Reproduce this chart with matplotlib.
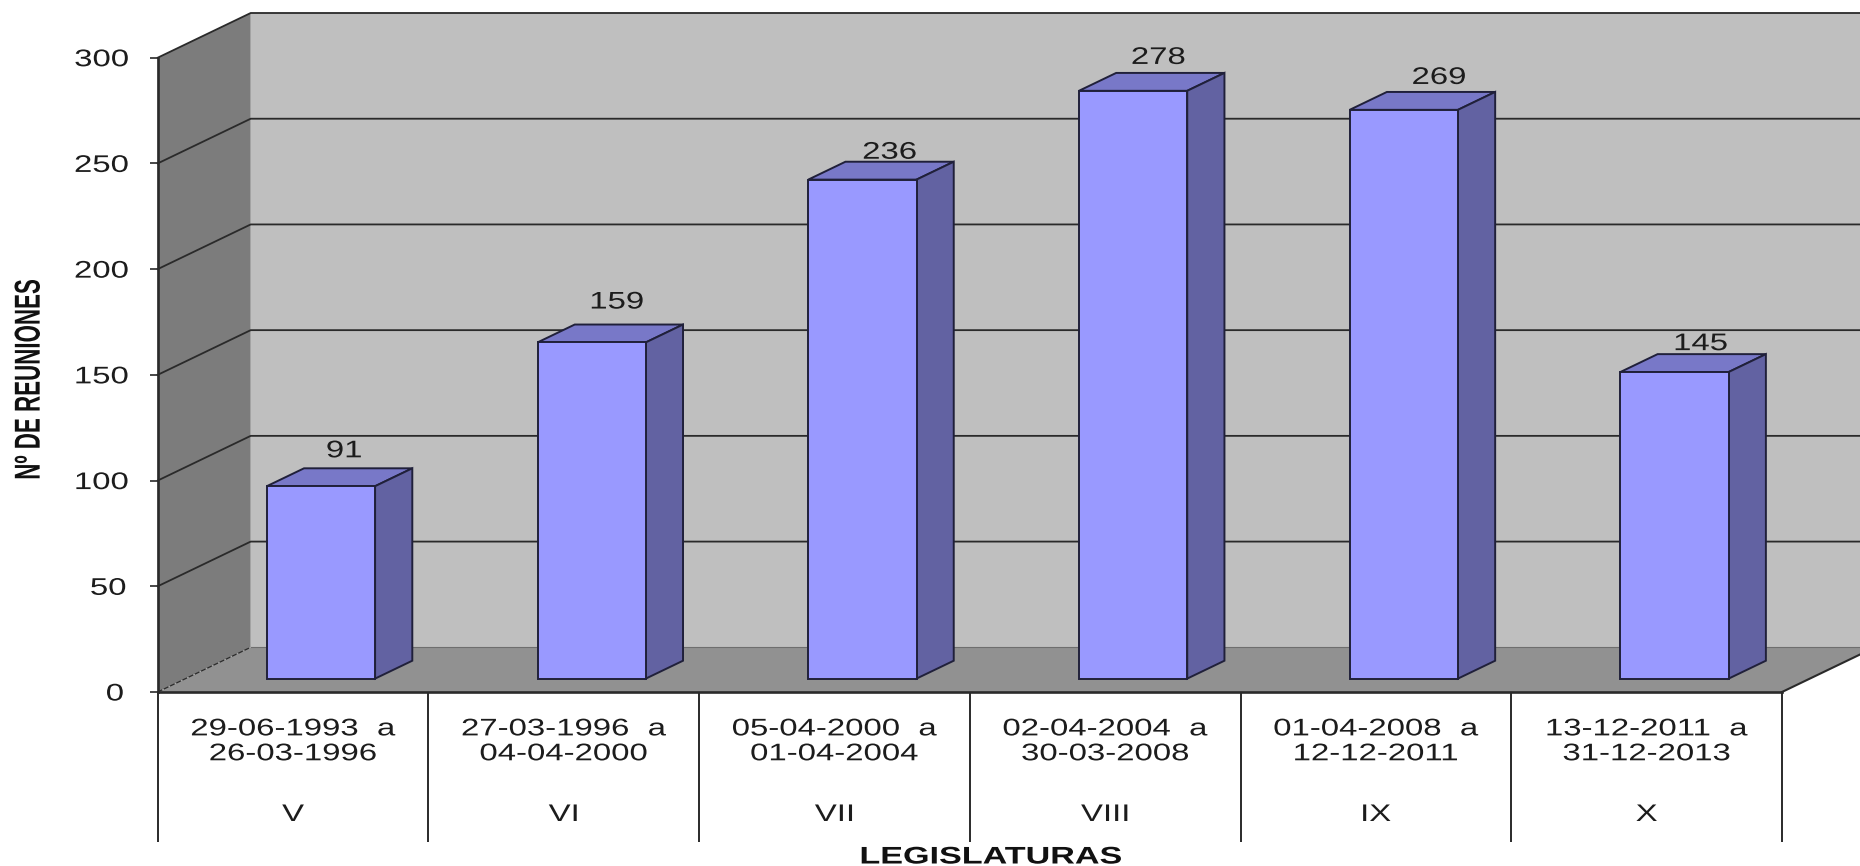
import matplotlib
matplotlib.use('Agg')
import matplotlib.pyplot as plt
from matplotlib.patches import Polygon
from matplotlib.patheffects import AbstractPathEffect
from matplotlib.transforms import Affine2D
import numpy as np

legislaturas = ['V', 'VI', 'VII', 'VIII', 'IX', 'X']
periodos = ['29-06-1993  a\n26-03-1996', '27-03-1996  a\n04-04-2000',
            '05-04-2000  a\n01-04-2004', '02-04-2004  a\n30-03-2008',
            '01-04-2008  a\n12-12-2011', '13-12-2011  a\n31-12-2013']
reuniones = [91, 159, 236, 278, 269, 145]
y_ticks = [0, 50, 100, 150, 200, 250, 300]

# nudges for the value labels, in pixels from the back edge of each bar top
label_dx = [-14, -12, -10, -12, -2, -11]
label_dy = [17, 22, 9, 15, 14, 10]

W, H = 1860, 866
plt.rcParams['font.family'] = ['Liberation Sans', 'DejaVu Sans']
TEXT = '#1c1c1c'
LINE = '#2a2a2a'
FS = 17.3


class Stretch(AbstractPathEffect):
    # the source image is stretched sideways, so the glyphs are too
    def __init__(self, sx=1.0, sy=1.0):
        super().__init__()
        self.sx = sx
        self.sy = sy

    def draw_path(self, renderer, gc, tpath, affine, rgbFace=None):
        box = tpath.transformed(affine).get_extents()
        cx, cy = (box.x0 + box.x1) / 2, (box.y0 + box.y1) / 2
        t = affine + Affine2D().translate(-cx, -cy).scale(self.sx, self.sy).translate(cx, cy)
        renderer.draw_path(gc, tpath, t, rgbFace)


wide = [Stretch(1.37)]

fig = plt.figure(figsize=(W / 100, H / 100), dpi=100)
ax = fig.add_axes([157.7 / W, 1 - 692 / H, 1624.3 / W, 634.3 / H])
n = len(reuniones)
ax.set_xlim(0, n)
ax.set_ylim(0, 300)
ax.patch.set_visible(False)

# fake 3d depth of the excel chart, in data units
depth_x = 93 / (1624.3 / n)
depth_y = 44.7 / (634.3 / 300)


def proj(x, y, d):
    return (x + d * depth_x, y + d * depth_y)


def face(pts, fc, ec='none', lw=0, z=1):
    ax.add_patch(Polygon(pts, closed=True, fc=fc, ec=ec, lw=lw, zorder=z,
                         clip_on=False, joinstyle='miter'))


# walls and floor
face([proj(0, 0, 1), proj(n, 0, 1), proj(n, 300, 1), proj(0, 300, 1)], '#bfbfbf')
face([proj(0, 0, 0), proj(0, 0, 1), proj(0, 300, 1), proj(0, 300, 0)], '#7c7c7c')
face([proj(0, 0, 0), proj(n, 0, 0), proj(n, 0, 1), proj(0, 0, 1)], '#919191')

# gridlines
for v in y_ticks[1:]:
    x0, y0 = proj(0, v, 0)
    x1, y1 = proj(0, v, 1)
    x2, y2 = proj(n, v, 1)
    ax.plot([x0, x1, x2], [y0, y1, y2], color=LINE, lw=1.3, zorder=2, clip_on=False)
x1, y1 = proj(n, 0, 0)
x2, y2 = proj(n, 0, 1)
ax.plot([x1, x2], [y1, y2], color=LINE, lw=1.5, zorder=2, clip_on=False)
x0, y0 = proj(0, 0, 0)
x1, y1 = proj(0, 0, 1)
ax.plot([x0, x1], [y0, y1], color=LINE, lw=0.9, ls=(0, (4, 1.5)), zorder=2, clip_on=False)
x0, y0 = proj(0, 0, 1)
x1, y1 = proj(n, 0, 1)
ax.plot([x0, x1], [y0, y1], color='#6e6e6e', lw=0.8, zorder=2, clip_on=False)

# bars
bar_w = 0.4
d0, d1 = 0.3, 0.7
ec = '#20203a'
for i, v in enumerate(reuniones):
    l = i + 0.5 - bar_w / 2
    r = i + 0.5 + bar_w / 2
    face([proj(l, v, d0), proj(r, v, d0), proj(r, v, d1), proj(l, v, d1)],
         '#7878c8', ec, 1.4, 3)
    face([proj(r, 0, d0), proj(r, 0, d1), proj(r, v, d1), proj(r, v, d0)],
         '#6262a2', ec, 1.4, 3)
    face([proj(l, 0, d0), proj(r, 0, d0), proj(r, v, d0), proj(l, v, d0)],
         '#9999ff', ec, 1.4, 4)
    ax.annotate(str(v), xy=proj(i + 0.5, v, d1), xytext=(label_dx[i], label_dy[i]),
                textcoords='offset pixels', ha='center', va='center',
                fontsize=FS, color=TEXT, annotation_clip=False, zorder=5,
                path_effects=wide)

# axes
for s in ['top', 'right']:
    ax.spines[s].set_visible(False)
for s in ['left', 'bottom']:
    ax.spines[s].set_color(LINE)
    ax.spines[s].set_linewidth(1.9)
    ax.spines[s].set_zorder(6)

ax.set_yticks(y_ticks)
ax.tick_params(axis='y', length=6, width=1.2, color=LINE, pad=20,
               labelsize=FS, labelcolor=TEXT)
for lab in ax.get_yticklabels():
    lab.set_path_effects(wide)

# category separators are long major ticks, the dates sit on minor ticks
ax.set_xticks(np.arange(n + 1), labels=[''] * (n + 1))
ax.tick_params(axis='x', which='major', length=108, width=1.4, color=LINE)
ax.set_xticks(np.arange(n) + 0.5, labels=periodos, minor=True)
ax.tick_params(axis='x', which='minor', length=0, pad=19, labelsize=FS, labelcolor=TEXT)
for lab in ax.get_xticklabels(minor=True):
    lab.set_linespacing(1.17)
    lab.set_path_effects(wide)

for i, nombre in enumerate(legislaturas):
    ax.annotate(nombre, xy=(i + 0.5, 0), xycoords=ax.get_xaxis_transform(),
                xytext=(0, -123), textcoords='offset pixels', ha='center', va='center',
                fontsize=FS, color=TEXT, annotation_clip=False, path_effects=wide)

ax.set_ylabel('Nº DE REUNIONES', fontsize=FS, fontweight='bold', color='#111111',
              va='center', path_effects=[Stretch(1.5, 0.93)])
ax.yaxis.set_label_coords((29 - 157.7) / 1624.3, (692 - 379.5) / 634.3)
ax.set_xlabel('LEGISLATURAS', fontsize=FS, fontweight='bold', color='#111111',
              va='center', path_effects=[Stretch(1.42)])
ax.xaxis.set_label_coords((991 - 157.7) / 1624.3, (692 - 857) / 634.3)

fig.savefig('out.png', dpi=100)
